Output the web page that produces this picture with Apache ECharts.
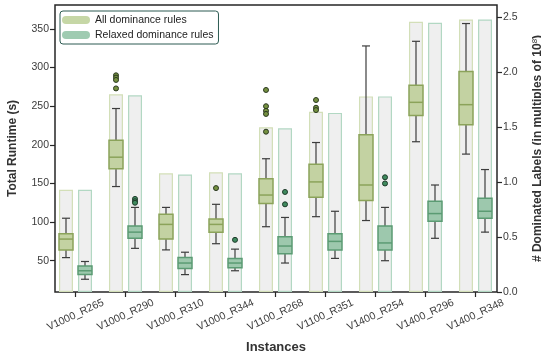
<!DOCTYPE html>
<html>
<head>
<meta charset="utf-8">
<script src="https://cdn.jsdelivr.net/npm/echarts@6/dist/echarts.min.js"></script>
<style>
  html, body { margin: 0; padding: 0; background: #fff; }
  #chart { width: 541px; height: 360px; }
</style>
</head>
<body>
<div id="chart"></div>
<script>
// instances on the x axis
const instances = ['V1000_R265', 'V1000_R290', 'V1000_R310', 'V1000_R344', 'V1100_R268',
  'V1100_R351', 'V1400_R254', 'V1400_R296', 'V1400_R348']

// runtime boxes: [low whisker, q1, median, q3, high whisker]
const allBoxes = [
  [54, 64, 78, 85, 105],
  [146, 169, 184, 206, 247],
  [64, 78, 97, 110, 119],
  [72, 87, 97, 104, 123],
  [94, 124, 135, 156, 182],
  [107, 132, 152, 175, 203],
  [102, 128, 148, 213, 328],
  [204, 238, 255, 277, 334],
  [188, 226, 252, 295, 357]
]
const relaxedBoxes = [
  [26, 32, 37, 43, 49],
  [66, 79, 87, 95, 119],
  [32, 40, 47, 54, 61],
  [37, 41, 47, 53, 65],
  [47, 59, 69, 81, 106],
  [53, 64, 75, 85, 114],
  [50, 64, 73, 95, 119],
  [79, 101, 111, 127, 148],
  [87, 105, 114, 131, 168]
]

// outliers: [instance index, runtime]
const allOutliers = [[1, 290], [1, 287], [1, 284], [1, 273], [3, 144],
  [4, 271], [4, 250], [4, 244], [4, 240], [4, 217], [5, 258], [5, 248], [5, 245]]
const relaxedOutliers = [[1, 130], [1, 127], [1, 125], [3, 77], [4, 139], [4, 123], [6, 158], [6, 150]]

// dominated labels (x 1e8), right axis
const allLabels = [0.93, 1.80, 1.08, 1.09, 1.50, 1.64, 1.78, 2.46, 2.48]
const relaxedLabels = [0.93, 1.79, 1.07, 1.08, 1.49, 1.63, 1.78, 2.45, 2.48]

const runtimeTicks = [50, 100, 150, 200, 250, 300, 350]
const labelTicks = [0, 0.5, 1, 1.5, 2, 2.5]

const FONT = 'Liberation Sans'
const OFF = 9.5      // half distance between the two groups
const BOXW = 14

function boxRenderer(offset, fill, edge) {
  return function (params, api) {
    const i = api.value(0)
    const cx = api.coord([i, 0])[0] + offset
    const y = [1, 2, 3, 4, 5].map(d => api.coord([i, api.value(d)])[1])
    const wh = { stroke: '#3d3d3d', lineWidth: 1.2 }
    return {
      type: 'group',
      children: [
        { type: 'line', shape: { x1: cx, y1: y[0], x2: cx, y2: y[1] }, style: wh },
        { type: 'line', shape: { x1: cx, y1: y[3], x2: cx, y2: y[4] }, style: wh },
        { type: 'line', shape: { x1: cx - 4, y1: y[0], x2: cx + 4, y2: y[0] }, style: wh },
        { type: 'line', shape: { x1: cx - 4, y1: y[4], x2: cx + 4, y2: y[4] }, style: wh },
        { type: 'rect', shape: { x: cx - BOXW / 2, y: y[3], width: BOXW, height: y[1] - y[3] },
          style: { fill: fill, stroke: edge, lineWidth: 1.5 } },
        { type: 'line', shape: { x1: cx - BOXW / 2, y1: y[2], x2: cx + BOXW / 2, y2: y[2] },
          style: { stroke: edge, lineWidth: 1.5 } }
      ]
    }
  }
}

const chart = echarts.init(document.getElementById('chart'), null, { renderer: 'canvas' })

const pill = 'path://M4,0 L24,0 A4,4 0 0 1 24,8 L4,8 A4,4 0 0 1 4,0 Z'

chart.setOption({
  animation: false,
  textStyle: { fontFamily: FONT },
  grid: {
    left: 55, right: 44, top: 5, bottom: 68,
    outerBoundsMode: 'none',
    containLabel: false,
    show: true, borderColor: '#262626', borderWidth: 1.5, backgroundColor: 'transparent'
  },
  legend: {
    orient: 'vertical',
    left: 60, top: 11,
    padding: [3, 5, 3, 2],
    itemGap: 3,
    itemWidth: 28, itemHeight: 8,
    borderColor: '#2d5b52', borderWidth: 1, borderRadius: 3,
    backgroundColor: '#fff',
    textStyle: { fontFamily: FONT, fontSize: 10.5, color: '#222', lineHeight: 12 },
    data: [
      { name: 'All dominance rules', icon: pill, itemStyle: { color: '#c6d7a6' } },
      { name: 'Relaxed dominance rules', icon: pill, itemStyle: { color: '#9fcbb1' } }
    ]
  },
  xAxis: {
    type: 'value',
    min: -0.41, max: 8.43,
    name: 'Instances',
    nameLocation: 'middle',
    nameGap: 49,
    nameTextStyle: { fontFamily: FONT, fontSize: 13, fontWeight: 'bold', color: '#333' },
    axisLine: { show: false, onZero: false },
    splitLine: { show: false },
    axisTick: { show: true, length: 5, lineStyle: { color: '#262626', width: 1.2 },
      customValues: instances.map((d, i) => i) },
    axisLabel: {
      customValues: instances.map((d, i) => i),
      formatter: v => instances[Math.round(v)],
      rotate: 25, align: 'center', verticalAlign: 'middle', margin: 23,
      fontFamily: FONT, fontSize: 10.5, color: '#3b3b3b'
    }
  },
  yAxis: [
    {
      type: 'value',
      min: 9.5, max: 381,
      name: 'Total Runtime (s)',
      nameLocation: 'middle',
      nameGap: 36,
      nameTextStyle: { fontFamily: FONT, fontSize: 12, fontWeight: 'bold', color: '#333' },
      axisLine: { show: false, onZero: false },
      splitLine: { show: false },
      axisTick: { show: true, length: 5, customValues: runtimeTicks,
        lineStyle: { color: '#262626', width: 1.2 } },
      axisLabel: { customValues: runtimeTicks, margin: 6,
        fontFamily: FONT, fontSize: 10.5, color: '#3b3b3b' }
    },
    {
      type: 'value',
      position: 'right',
      min: 0, max: 2.612,
      name: '# Dominated Labels (in multiples of 10{sup|8})',
      nameLocation: 'middle',
      nameGap: 34,
      nameRotate: 90,
      nameTextStyle: {
        fontFamily: FONT, fontSize: 12, fontWeight: 'bold', color: '#333',
        rich: { sup: { fontSize: 8, fontWeight: 'normal', verticalAlign: 'top', padding: [0, 0, 6, 0] } }
      },
      axisLine: { show: false, onZero: false },
      splitLine: { show: false },
      axisTick: { show: true, length: 5, customValues: labelTicks,
        lineStyle: { color: '#262626', width: 1.2 } },
      axisLabel: { customValues: labelTicks, formatter: v => v.toFixed(1), margin: 6,
        fontFamily: FONT, fontSize: 10.5, color: '#3b3b3b' }
    }
  ],
  series: [
    {
      name: 'All labels',
      type: 'bar',
      yAxisIndex: 1,
      barWidth: BOXW,
      barGap: '36%',
      z: 1,
      itemStyle: { color: '#efefef', borderColor: '#d3dfb8', borderWidth: 1.2 },
      data: allLabels.map((v, i) => [i, v])
    },
    {
      name: 'Relaxed labels',
      type: 'bar',
      yAxisIndex: 1,
      barWidth: BOXW,
      barGap: '36%',
      z: 1,
      itemStyle: { color: '#efefef', borderColor: '#b2d8c3', borderWidth: 1.2 },
      data: relaxedLabels.map((v, i) => [i, v])
    },
    {
      name: 'All dominance rules',
      type: 'custom',
      z: 3,
      renderItem: boxRenderer(-OFF, '#c3d2a2', '#8ba35a'),
      encode: { x: 0, y: [1, 2, 3, 4, 5] },
      itemStyle: { color: '#c6d7a6' },
      data: allBoxes.map((b, i) => [i].concat(b))
    },
    {
      name: 'Relaxed dominance rules',
      type: 'custom',
      z: 3,
      renderItem: boxRenderer(OFF, '#9dc8ad', '#5b9b73'),
      encode: { x: 0, y: [1, 2, 3, 4, 5] },
      itemStyle: { color: '#9fcbb1' },
      data: relaxedBoxes.map((b, i) => [i].concat(b))
    },
    {
      name: 'All outliers',
      type: 'scatter',
      z: 4,
      symbolSize: 5,
      symbolOffset: [-OFF, 0],
      itemStyle: { color: '#74903f', borderColor: '#2b3820', borderWidth: 1, opacity: 1 },
      data: allOutliers
    },
    {
      name: 'Relaxed outliers',
      type: 'scatter',
      z: 4,
      symbolSize: 5,
      symbolOffset: [OFF, 0],
      itemStyle: { color: '#3f8a5e', borderColor: '#1f3a2a', borderWidth: 1, opacity: 1 },
      data: relaxedOutliers
    }
  ]
})
</script>
</body>
</html>
